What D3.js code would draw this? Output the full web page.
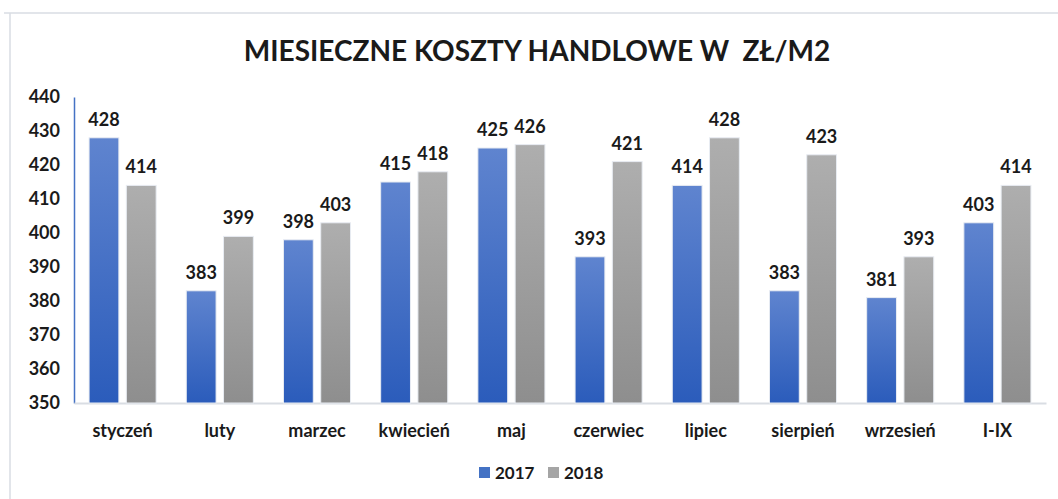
<!DOCTYPE html>
<html>
<head>
<meta charset="utf-8">
<script src="https://cdn.jsdelivr.net/npm/d3@7"></script>
<style>
body { margin: 0; background: #fff; }
text { font-family: Lato, "Open Sans", sans-serif; font-weight: bold; fill: #1a1a1a; }
</style>
</head>
<body>
<div id="chart"></div>
<script>
// data
var months = ["styczeń", "luty", "marzec", "kwiecień", "maj", "czerwiec", "lipiec", "sierpień", "wrzesień", "I-IX"];
var years = ["2017", "2018"];
var values2017 = [428, 383, 398, 415, 425, 393, 414, 383, 381, 403];
var values2018 = [414, 399, 403, 418, 426, 421, 428, 423, 393, 414];
var yTicks = [350, 360, 370, 380, 390, 400, 410, 420, 430, 440];

var width = 1058, height = 499;
var margin = {top: 97, right: 12, bottom: 96, left: 74};

var svg = d3.select("#chart").append("svg")
  .attr("width", width)
  .attr("height", height);

// outer frame
svg.append("path")
  .attr("d", "M4,13 H1058 M10,13 V499")
  .attr("stroke", "#d9dde3")
  .attr("stroke-width", 1.5)
  .attr("fill", "none");

// gradients
var defs = svg.append("defs");
var grads = [
  {id: "g2017", top: "#5f84cf", bottom: "#2b5cbb"},
  {id: "g2018", top: "#aeaeae", bottom: "#8e8e8e"}
];
grads.forEach(function(g) {
  var lg = defs.append("linearGradient").attr("id", g.id)
    .attr("x1", 0).attr("y1", 0).attr("x2", 0).attr("y2", 1);
  lg.append("stop").attr("offset", "0%").attr("stop-color", g.top);
  lg.append("stop").attr("offset", "100%").attr("stop-color", g.bottom);
});

svg.append("text")
  .attr("x", 537)
  .attr("y", 61)
  .attr("text-anchor", "middle")
  .attr("xml:space", "preserve")
  .style("font-size", "28px")
  .text("MIESIECZNE KOSZTY HANDLOWE W  ZŁ/M2");

var x0 = d3.scaleBand()
  .domain(months)
  .range([margin.left, width - margin.right])
  .paddingInner(0.31)
  .paddingOuter(0.155);

var x1 = d3.scaleBand()
  .domain(years)
  .range([0, x0.bandwidth()])
  .paddingInner(0.2);

var y = d3.scaleLinear()
  .domain([350, 440])
  .range([height - margin.bottom, margin.top]);

// axes
var yAxis = svg.append("g")
  .attr("transform", "translate(" + margin.left + ",0)")
  .call(d3.axisLeft(y).tickValues(yTicks).tickSize(0).tickPadding(14));
yAxis.select(".domain").attr("stroke", "#4472c4").attr("stroke-width", 1.5);
yAxis.selectAll("text").style("font-size", "18px").attr("fill", "#1a1a1a");

var xAxis = svg.append("g")
  .attr("transform", "translate(0," + (height - margin.bottom) + ")")
  .call(d3.axisBottom(x0).tickSize(0).tickPadding(21));
xAxis.select(".domain").attr("stroke", "#d9dde3").attr("stroke-width", 2);
xAxis.selectAll("text").style("font-size", "18px").attr("fill", "#1a1a1a");

var series = [
  {year: "2017", values: values2017, fill: "url(#g2017)"},
  {year: "2018", values: values2018, fill: "url(#g2018)"}
];

series.forEach(function(s) {
  var g = svg.append("g");
  g.selectAll("rect")
    .data(s.values)
    .enter().append("rect")
      .attr("x", function(d, i) { return x0(months[i]) + x1(s.year); })
      .attr("y", function(d) { return y(d); })
      .attr("width", x1.bandwidth())
      .attr("height", function(d) { return y(350) - y(d); })
      .attr("fill", s.fill)
      .attr("stroke", "#e8ecf2")
      .attr("stroke-width", 1);
  g.selectAll("text")
    .data(s.values)
    .enter().append("text")
      .attr("x", function(d, i) { return x0(months[i]) + x1(s.year) + x1.bandwidth() / 2; })
      .attr("y", function(d) { return y(d) - 12; })
      .attr("text-anchor", "middle")
      .style("font-size", "18px")
      .text(function(d) { return d; });
});

// legend
var legendItems = [
  {label: "2017", color: "#4472c4", x: 479},
  {label: "2018", color: "#a5a5a5", x: 548}
];
var legend = svg.append("g");
legendItems.forEach(function(l) {
  legend.append("rect")
    .attr("x", l.x).attr("y", 467)
    .attr("width", 11).attr("height", 11)
    .attr("fill", l.color);
  legend.append("text")
    .attr("x", l.x + 16).attr("y", 479)
    .style("font-size", "17px")
    .text(l.label);
});
</script>
</body>
</html>
